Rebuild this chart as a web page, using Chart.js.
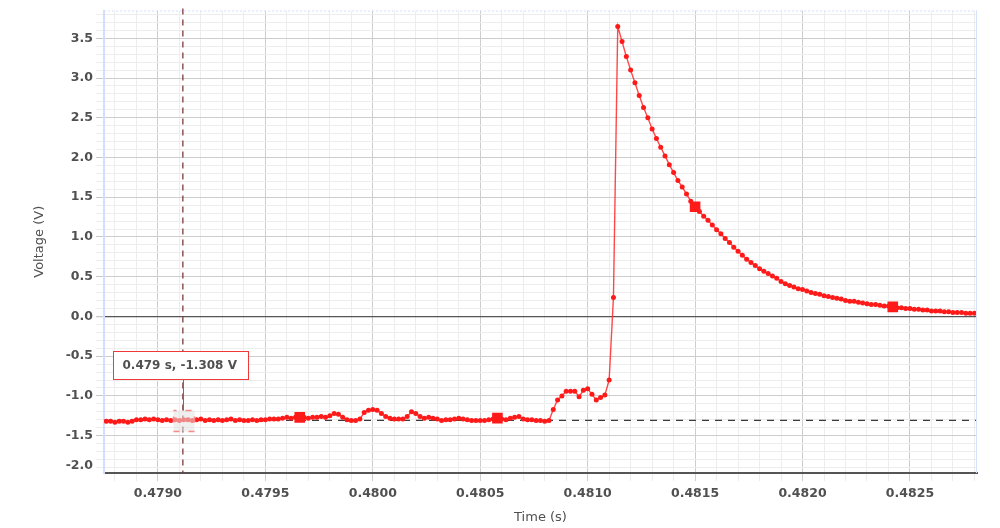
<!DOCTYPE html>
<html>
<head>
<meta charset="utf-8">
<script src="https://cdn.jsdelivr.net/npm/chart.js@4/dist/chart.umd.min.js"></script>
<style>
html, body { margin: 0; padding: 0; background: #fff; }
#wrap { width: 1000px; height: 528px; }
</style>
</head>
<body>
<div id="wrap"><canvas id="chart" width="1000" height="528"></canvas></div>
<script>
// sampled trace: one sample every 20 us, starting at t0
const t0 = 0.47876;
const dt = 0.00002;
const voltage = [
  -1.32, -1.32, -1.33, -1.32, -1.32, -1.33, -1.32, -1.30, -1.30, -1.29,
  -1.30, -1.29, -1.30, -1.31, -1.30, -1.31, -1.30, -1.31, -1.30, -1.30,
  -1.31, -1.30, -1.29, -1.31, -1.30, -1.31, -1.30, -1.31, -1.30, -1.29,
  -1.31, -1.30, -1.31, -1.31, -1.30, -1.31, -1.30, -1.30, -1.29, -1.29,
  -1.29, -1.28, -1.27, -1.28, -1.27, -1.27, -1.27, -1.28, -1.27, -1.27,
  -1.26, -1.27, -1.25, -1.22, -1.23, -1.27, -1.30, -1.31, -1.31, -1.29,
  -1.21, -1.18, -1.17, -1.18, -1.22, -1.26, -1.28, -1.29, -1.29, -1.29,
  -1.26, -1.20, -1.22, -1.26, -1.28, -1.27, -1.28, -1.29, -1.31, -1.30,
  -1.30, -1.29, -1.28, -1.29, -1.30, -1.31, -1.31, -1.31, -1.31, -1.30,
  -1.29, -1.28, -1.29, -1.30, -1.28, -1.27, -1.26, -1.29, -1.30, -1.30,
  -1.31, -1.31, -1.32, -1.31, -1.17, -1.05, -1.00, -0.94, -0.94, -0.94,
  -1.01, -0.93, -0.91, -0.98, -1.05, -1.02, -0.99, -0.80, 0.24, 3.65,
  3.46, 3.27, 3.10, 2.94, 2.78, 2.63, 2.50, 2.36, 2.24, 2.13,
  2.02, 1.91, 1.81, 1.71, 1.63, 1.54, 1.45, 1.38, 1.32, 1.26,
  1.21, 1.15, 1.09, 1.04, 0.98, 0.93, 0.87, 0.82, 0.77, 0.72,
  0.68, 0.64, 0.60, 0.57, 0.54, 0.51, 0.48, 0.44, 0.41, 0.39,
  0.37, 0.35, 0.34, 0.32, 0.30, 0.29, 0.28, 0.26, 0.25, 0.24,
  0.23, 0.22, 0.20, 0.19, 0.19, 0.18, 0.17, 0.16, 0.15, 0.15,
  0.14, 0.13, 0.13, 0.12, 0.11, 0.11, 0.10, 0.10, 0.09, 0.09,
  0.08, 0.08, 0.07, 0.07, 0.07, 0.06, 0.06, 0.05, 0.05, 0.05,
  0.04, 0.04, 0.04
];
// samples that get the big square marker
const bigMarkers = [45, 91, 137, 183];

// cursor readout
const cursorTime = 0.479116;
const cursorVolt = -1.308;
const cursorLabel = '0.479 s, -1.308 V';

const xRange = [0.478749, 0.482812];
const yRange = [-1.97, 3.85];

const points = voltage.map((v, i) => ({ x: t0 + i * dt, y: v }));

const FONT = 'DejaVu Sans';
const TEXT = '#505050';

function isMajorX(v) { return Math.round(v * 10000) % 5 === 0; }
function isMajorY(v) { return Math.round(v * 10) % 5 === 0; }

const cursorPlugin = {
  id: 'cursor',
  beforeDatasetsDraw(chart) {
    const { ctx, chartArea: a, scales: { x, y } } = chart;
    const px = x.getPixelForValue(cursorTime);
    const py = y.getPixelForValue(cursorVolt);
    ctx.save();
    // horizontal level line
    ctx.strokeStyle = '#3a3a3a';
    ctx.lineWidth = 1.3;
    ctx.setLineDash([7, 6]);
    ctx.beginPath();
    ctx.moveTo(a.left, py);
    ctx.lineTo(a.right, py);
    ctx.stroke();
    // vertical cursor line
    ctx.strokeStyle = '#7a3b3b';
    ctx.setLineDash([6, 5]);
    ctx.beginPath();
    ctx.moveTo(px, a.top - 2);
    ctx.lineTo(px, a.bottom);
    ctx.stroke();
    ctx.restore();
  },
  afterDatasetsDraw(chart) {
    const { ctx, scales: { x, y } } = chart;
    const px = Math.round(x.getPixelForValue(cursorTime)) + 0.5;
    const py = Math.round(y.getPixelForValue(cursorVolt)) + 0.5;
    ctx.save();
    // dashed target square
    ctx.fillStyle = 'rgba(225,225,225,0.55)';
    ctx.fillRect(px - 10, py - 10, 21, 21);
    ctx.strokeStyle = '#f58a8a';
    ctx.lineWidth = 1.5;
    ctx.setLineDash([6, 9]);
    ctx.lineDashOffset = 3;
    ctx.strokeRect(px - 10, py - 10, 21, 21);
    ctx.setLineDash([]);
    // connector
    ctx.strokeStyle = '#f03a3a';
    ctx.lineWidth = 1;
    ctx.beginPath();
    ctx.moveTo(px, py - 41);
    ctx.lineTo(px, py - 10);
    ctx.stroke();
    // label box
    const bx = px - 70, by = py - 69;
    ctx.fillStyle = '#fff';
    ctx.fillRect(bx, by, 135, 28);
    ctx.strokeStyle = '#f03a3a';
    ctx.strokeRect(bx, by, 135, 28);
    ctx.fillStyle = TEXT;
    ctx.font = 'bold 12px ' + FONT;
    ctx.textBaseline = 'middle';
    ctx.fillText(cursorLabel, bx + 9, by + 14);
    ctx.restore();
  },
  afterDraw(chart) {
    const { ctx, chartArea: a } = chart;
    ctx.save();
    ctx.strokeStyle = '#d6e0ff';
    ctx.lineWidth = 1;
    ctx.setLineDash([2, 2]);
    ctx.beginPath();
    ctx.moveTo(a.left, a.top + 0.5);
    ctx.lineTo(a.right, a.top + 0.5);
    ctx.stroke();
    ctx.setLineDash([]);
    ctx.beginPath();
    ctx.moveTo(a.right - 0.5, a.top);
    ctx.lineTo(a.right - 0.5, a.bottom);
    ctx.stroke();
    ctx.restore();
  }
};

new Chart(document.getElementById('chart'), {
  type: 'line',
  data: {
    datasets: [{
      data: points,
      borderColor: 'rgba(255,40,40,0.85)',
      borderWidth: 1.4,
      backgroundColor: '#ff1a1a',
      pointBorderWidth: 0,
      pointStyle: (c) => bigMarkers.includes(c.dataIndex) ? 'rect' : 'circle',
      pointRadius: (c) => bigMarkers.includes(c.dataIndex) ? 7.5 : 2.5,
      tension: 0
    }]
  },
  plugins: [cursorPlugin],
  options: {
    responsive: false,
    animation: false,
    layout: { padding: { top: 6, right: 23, left: 0, bottom: 0 } },
    plugins: { legend: { display: false }, tooltip: { enabled: false } },
    scales: {
      x: {
        type: 'linear',
        min: xRange[0],
        max: xRange[1],
        afterFit: (s) => { s.height = 55; },
        afterBuildTicks: (s) => {
          const t = [];
          for (let k = 4788; k <= 4828; k++) t.push({ value: k / 10000 });
          s.ticks = t;
        },
        ticks: {
          autoSkip: false,
          maxRotation: 0,
          padding: 5,
          color: TEXT,
          font: { family: FONT, size: 12.5, weight: 'bold' },
          callback: (v) => isMajorX(v) ? v.toFixed(4) : ''
        },
        grid: {
          color: (c) => isMajorX(c.tick.value) ? '#cdcdcd' : '#ededed',
          tickColor: (c) => isMajorX(c.tick.value) ? '#d0d0d0' : '#ececec',
          tickLength: 8
        },
        border: { color: '#555', width: 2 },
        title: {
          display: true,
          text: 'Time (s)',
          color: TEXT,
          font: { family: FONT, size: 13 },
          padding: { top: 0, bottom: 3 }
        }
      },
      y: {
        min: yRange[0],
        max: yRange[1],
        afterFit: (s) => { s.width = 104; },
        afterBuildTicks: (s) => {
          const t = [{ value: yRange[0] }];
          for (let k = -19; k <= 38; k++) t.push({ value: k / 10 });
          s.ticks = t;
        },
        ticks: {
          autoSkip: false,
          padding: 3,
          color: TEXT,
          font: { family: FONT, size: 12.5, weight: 'bold' },
          // bottom label sits a little above the axis edge, as in the source
          callback: (v) => v === yRange[0] ? ['-2.0', ''] : (isMajorY(v) ? v.toFixed(1) : '')
        },
        grid: {
          color: (c) => {
            const v = c.tick.value;
            if (v === yRange[0]) return 'rgba(0,0,0,0)';
            if (Math.abs(v) < 1e-9) return '#555';
            return isMajorY(v) ? '#cdcdcd' : '#ededed';
          },
          lineWidth: (c) => Math.abs(c.tick.value) < 1e-9 ? 1.3 : 1,
          tickColor: (c) => {
            const v = c.tick.value;
            if (v === yRange[0]) return 'rgba(0,0,0,0)';
            return isMajorY(v) ? '#c8c8c8' : '#ededed';
          },
          tickLength: 8
        },
        border: { color: '#d2ddff', width: 2 },
        title: {
          display: true,
          text: 'Voltage (V)',
          color: TEXT,
          font: { family: FONT, size: 13 },
          padding: { top: 32, bottom: 0 }
        }
      }
    }
  }
});
</script>
</body>
</html>
